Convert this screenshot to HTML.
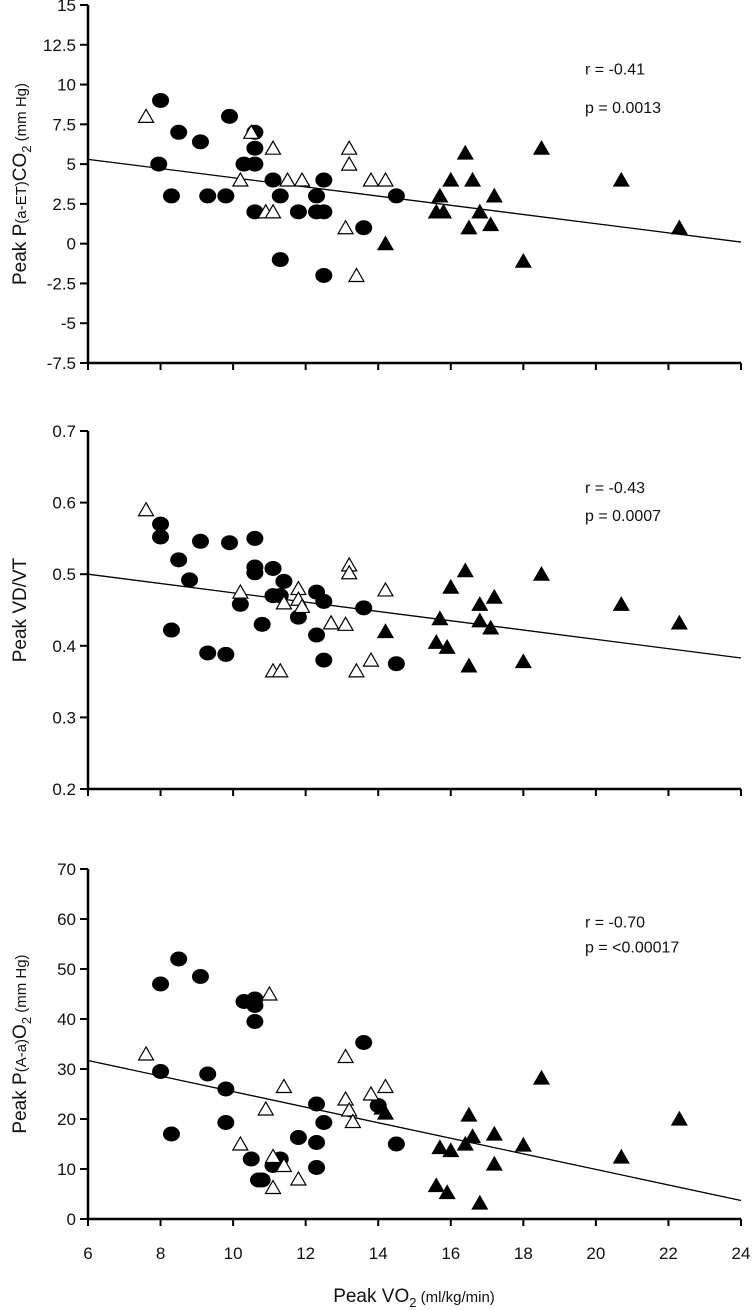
<!DOCTYPE html>
<html><head><meta charset="utf-8"><style>
html,body{margin:0;padding:0;background:#fff}
svg{display:block;font-family:"Liberation Sans",Arial,sans-serif}
</style></head><body>
<svg id="chart" width="754" height="1310" viewBox="0 0 754 1310"></svg>
<script>
const xTicks=[6,8,10,12,14,16,18,20,22,24];
const p1Ticks=[15,12.5,10,7.5,5,2.5,0,-2.5,-5,-7.5];
const p2Ticks=[0.7,0.6,0.5,0.4,0.3,0.2];
const p3Ticks=[70,60,50,40,30,20,10,0];
const p1Circles=[[8,9],[7.95,5],[8.3,3],[8.5,7],[9.1,6.4],[9.3,3],[9.8,3],[9.9,8],[10.3,5],[10.6,7],[10.6,6],[10.6,5],[10.6,2],[11.1,4],[11.3,3],[11.3,-1],[11.8,2],[12.3,3],[12.3,2],[12.5,4],[12.5,2],[12.5,-2],[13.6,1],[14.5,3]];
const p1Open=[[7.6,8],[10.2,4],[10.5,7],[10.9,2],[11.1,6],[11.1,2],[11.5,4],[11.9,4],[13.1,1],[13.2,6],[13.2,5],[13.4,-2],[13.8,4],[14.2,4]];
const p1Filled=[[14.2,0],[15.6,2],[15.7,3],[15.8,2],[16,4],[16.4,5.7],[16.5,1],[16.6,4],[16.8,2],[17.1,1.2],[17.2,3],[18,-1.1],[18.5,6],[20.7,4],[22.3,1]];
const p1Line=[5.3,0.1];
const p2Circles=[[8,0.57],[8,0.552],[8.3,0.422],[8.5,0.52],[8.8,0.492],[9.1,0.546],[9.3,0.39],[9.8,0.388],[9.9,0.544],[10.2,0.458],[10.6,0.51],[10.6,0.502],[10.6,0.55],[10.8,0.43],[11.1,0.508],[11.1,0.47],[11.3,0.47],[11.4,0.49],[11.8,0.44],[12.3,0.475],[12.3,0.415],[12.5,0.462],[12.5,0.38],[13.6,0.453],[14.5,0.375]];
const p2Open=[[7.6,0.59],[10.2,0.475],[11.1,0.365],[11.3,0.365],[11.4,0.46],[11.8,0.48],[11.8,0.465],[11.9,0.455],[12.7,0.432],[13.1,0.43],[13.2,0.513],[13.2,0.502],[13.4,0.365],[13.8,0.38],[14.2,0.478]];
const p2Filled=[[14.2,0.42],[15.6,0.405],[15.7,0.438],[15.9,0.398],[16,0.482],[16.4,0.505],[16.5,0.372],[16.8,0.458],[16.8,0.435],[17.1,0.425],[17.2,0.468],[18,0.378],[18.5,0.5],[20.7,0.458],[22.3,0.432]];
const p2Line=[0.5,0.383];
const p3Circles=[[8,47],[8,29.5],[8.3,17],[8.5,52],[9.1,48.5],[9.3,29],[9.8,26],[9.8,19.3],[10.3,43.5],[10.5,12],[10.6,44],[10.6,39.5],[10.6,42.7],[10.7,7.8],[10.8,7.8],[11.1,10.7],[11.3,12],[11.8,16.3],[12.3,23],[12.3,15.3],[12.3,10.3],[12.5,19.3],[13.6,35.3],[14,22.7],[14.5,15]];
const p3Open=[[7.6,33],[10.2,15],[10.9,22],[11,45],[11.1,12.5],[11.1,6.3],[11.4,26.5],[11.4,10.7],[11.8,8],[13.1,32.5],[13.1,24],[13.2,21.8],[13.3,19.5],[13.8,25],[14.2,26.5]];
const p3Filled=[[14.1,22.2],[14.2,21.2],[15.6,6.7],[15.7,14.3],[15.9,5.3],[16,13.7],[16.4,15],[16.5,20.8],[16.6,16.5],[16.8,3.2],[17.2,17],[17.2,11],[18,14.8],[18.5,28.2],[20.7,12.4],[22.3,20]];
const p3Line=[31.7,3.7];

const NS="http://www.w3.org/2000/svg";
const svg=document.getElementById('chart');
const X0=88,X1=741;
function xs(v){return X0+(v-6)/(24-6)*(X1-X0);}
function mk(tag,attrs,parent){const e=document.createElementNS(NS,tag);for(const k in attrs)e.setAttribute(k,attrs[k]);(parent||svg).appendChild(e);return e;}

function panel(id,ticks,yTop,yBot,circles,open,filled,line,title,rText,pText,rVal,pVal,showX){
  const vmax=ticks[0],vmin=ticks[ticks.length-1];
  const ys=v=>yTop+(vmax-v)/(vmax-vmin)*(yBot-yTop);
  const g=mk('g',{});
  
  
  const ax=mk('path',{d:`M${X0},${yTop} V${yBot} H${X1}`,stroke:'#000','stroke-width':2.5,fill:'none'},g);
  
  
  ticks.forEach(t=>{
    const y=ys(t);
    mk('line',{x1:X0-8,x2:X0,y1:y,y2:y,stroke:'#000','stroke-width':2},g);
    const tx=mk('text',{x:X0-12,y:y+6,'text-anchor':'end','font-size':17,fill:'#111'},g);
    tx.textContent=String(t);
    
    
  });
  xTicks.forEach(t=>{
    const x=xs(t);
    mk('line',{x1:x,x2:x,y1:yBot,y2:yBot+7,stroke:'#000','stroke-width':2},g);
    if(showX){
      const tx=mk('text',{x:x,y:yBot+40,'text-anchor':'middle','font-size':17,fill:'#111'},g);
      tx.textContent=String(t);
      
      
    }
  });
  const ln=mk('line',{x1:xs(6),y1:ys(line[0]),x2:xs(24),y2:ys(line[1]),stroke:'#000','stroke-width':1.3},g);
  
  
  circles.forEach(d=>{
    const c=mk('ellipse',{cx:xs(d[0]),cy:ys(d[1]),rx:8.5,ry:7.5,fill:'#000'},g);
    
    
  });
  function tri(d,fill){
    const x=xs(d[0]),y=ys(d[1]);
    const t=mk('polygon',{points:`${x},${y-7} ${x-7.5},${y+6} ${x+7.5},${y+6}`,fill:fill,stroke:'#000','stroke-width':1.2},g);
    return t;
  }
  open.forEach(d=>{const t=tri(d,'#fff');
    
    });
  filled.forEach(d=>{const t=tri(d,'#000');
    
    });
  const cy=(yTop+yBot)/2;
  const tt=mk('text',{transform:`translate(26,${cy}) rotate(-90)`,'text-anchor':'middle','font-size':19,fill:'#111'},g);
  tt.innerHTML=title;
  
  
  const r=mk('text',{x:585,y:ys(rVal)+6,'font-size':16,fill:'#111'},g);
  r.textContent=rText;
  
  
  const p=mk('text',{x:585,y:ys(pVal)+6,'font-size':16,fill:'#111'},g);
  p.textContent=pText;
  
  
}
panel('panel-petco2',p1Ticks,5,363,p1Circles,p1Open,p1Filled,p1Line,'Peak P<tspan font-size="15">(a-ET)</tspan>CO<tspan font-size="13" dy="5">2</tspan><tspan font-size="15" dy="-5"> (mm Hg)</tspan>','r = -0.41','p = 0.0013',11,8.6,false);
panel('panel-vdvt',p2Ticks,431,789,p2Circles,p2Open,p2Filled,p2Line,'Peak VD/VT','r = -0.43','p = 0.0007',0.622,0.583,false);
panel('panel-aao2',p3Ticks,869,1219,p3Circles,p3Open,p3Filled,p3Line,'Peak P<tspan font-size="15">(A-a)</tspan>O<tspan font-size="13" dy="5">2</tspan><tspan font-size="15" dy="-5"> (mm Hg)</tspan>','r = -0.70','p = <0.00017',59.5,54.5,true);
const xt=mk('text',{x:414,y:1302,'text-anchor':'middle','font-size':19,fill:'#111'});
xt.innerHTML='Peak VO<tspan font-size="13" dy="5">2</tspan><tspan font-size="15" dy="-5"> (ml/kg/min)</tspan>';


</script>
</body></html>
